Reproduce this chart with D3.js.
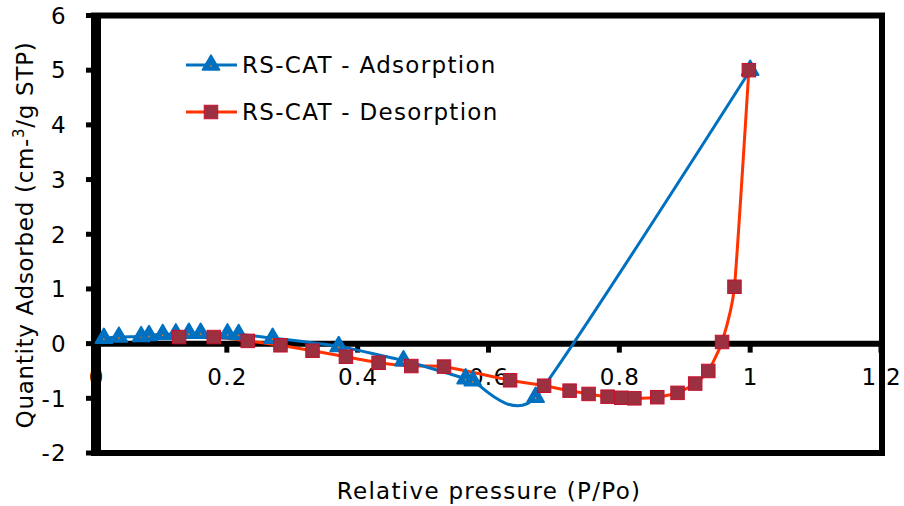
<!DOCTYPE html>
<html>
<head>
<meta charset="utf-8">
<script src="https://cdn.jsdelivr.net/npm/d3@7"></script>
<style>
  html, body { margin: 0; padding: 0; background: #fff; }
  svg { display: block; font-family: "DejaVu Sans", Verdana, sans-serif; }
</style>
</head>
<body>
<svg id="chart" width="904" height="506"></svg>
<script>
// Isotherm data: relative pressure (P/Po) vs quantity adsorbed
const adsP = [0.012, 0.035, 0.069, 0.081, 0.102, 0.122, 0.142, 0.160, 0.201, 0.218, 0.270, 0.371, 0.470, 0.565, 0.576, 0.672, 1.0];
const adsQ = [0.10, 0.12, 0.13, 0.15, 0.17, 0.18, 0.19, 0.19, 0.18, 0.17, 0.10, -0.05, -0.31, -0.64, -0.68, -0.98, 5.0];

const desP = [0.127, 0.180, 0.232, 0.282, 0.331, 0.382, 0.432, 0.482, 0.532, 0.633, 0.685, 0.724, 0.753, 0.782, 0.803, 0.823, 0.858, 0.889, 0.916, 0.936, 0.957, 0.976, 0.998];
const desQ = [0.12, 0.12, 0.05, -0.03, -0.13, -0.24, -0.35, -0.41, -0.42, -0.67, -0.77, -0.86, -0.92, -0.97, -0.99, -1.00, -0.98, -0.90, -0.73, -0.50, 0.03, 1.04, 5.0];

const xTicks = [0, 0.2, 0.4, 0.6, 0.8, 1, 1.2];
const yTicks = [-2, -1, 0, 1, 2, 3, 4, 5, 6];

const seriesNames = ["RS-CAT - Adsorption", "RS-CAT - Desorption"];

const blue = "#0070C0";
const red = "#FF3300";
const sqFill = "#9A3040";
const sqStroke = "#C8102E";

const svg = d3.select("#chart");
const plotLeft = 96, plotRight = 881, plotTop = 15.5, plotBottom = 453;

const x = d3.scaleLinear().domain([0, 1.2]).range([plotLeft, plotRight]);
const y = d3.scaleLinear().domain([-2, 6]).range([plotBottom, plotTop]);

const fontSize = 23;
const spacing = 1.3;

// Y axis tick marks and labels
const yAxis = svg.append("g");
yAxis.selectAll("line").data(yTicks).join("line")
  .attr("x1", plotLeft - 10).attr("x2", plotLeft)
  .attr("y1", d => y(d)).attr("y2", d => y(d))
  .attr("stroke", "#000").attr("stroke-width", 5);
yAxis.selectAll("text").data(yTicks).join("text")
  .attr("x", 67).attr("y", d => y(d))
  .attr("dy", "0.36em").attr("text-anchor", "end")
  .attr("font-size", fontSize).attr("letter-spacing", spacing).attr("fill", "#000")
  .text(d => String(d));

// X tick marks hang below the zero line; labels sit under it
const xAxis = svg.append("g");
xAxis.selectAll("line").data(xTicks).join("line")
  .attr("x1", d => x(d)).attr("x2", d => x(d))
  .attr("y1", y(0)).attr("y2", y(0) + 9)
  .attr("stroke", "#000").attr("stroke-width", 5);
xAxis.selectAll("text").data(xTicks).join("text")
  .attr("x", d => x(d) + spacing / 2).attr("y", 385)
  .attr("text-anchor", "middle")
  .attr("font-size", fontSize).attr("letter-spacing", spacing).attr("fill", "#000")
  .text(d => String(d));

// Plot frame, y axis and zero line
svg.append("rect")
  .attr("x", plotLeft - 2).attr("y", plotTop)
  .attr("width", plotRight - plotLeft + 3).attr("height", plotBottom - plotTop)
  .attr("fill", "none").attr("stroke", "#000").attr("stroke-width", 6);
svg.append("line")
  .attr("x1", x(0) + 2).attr("x2", x(0) + 2)
  .attr("y1", plotTop).attr("y2", plotBottom)
  .attr("stroke", "#000").attr("stroke-width", 6);
svg.append("line")
  .attr("x1", plotLeft).attr("x2", plotRight)
  .attr("y1", y(0)).attr("y2", y(0))
  .attr("stroke", "#000").attr("stroke-width", 6);

// Axis titles
svg.append("text")
  .attr("x", 489).attr("y", 499)
  .attr("text-anchor", "middle").attr("font-size", fontSize).attr("letter-spacing", spacing)
  .text("Relative pressure (P/Po)");

const yTitle = svg.append("text")
  .attr("transform", "translate(33, 235) rotate(-90)")
  .attr("text-anchor", "middle").attr("font-size", 23).attr("letter-spacing", 0.7);
yTitle.append("tspan").text("Quantity Adsorbed (cm-");
yTitle.append("tspan").attr("font-size", 15).attr("dy", -9).text("3");
yTitle.append("tspan").attr("dy", 9).text("/g STP)");

// Series (smoothed lines through every measured point)
const adsData = adsP.map((p, i) => ({ p, q: adsQ[i] }));
const desData = desP.map((p, i) => ({ p, q: desQ[i] }));

const line = d3.line().x(d => x(d.p)).y(d => y(d.q)).curve(d3.curveCardinal.tension(0.5));

svg.append("path").datum(desData).attr("d", line)
  .attr("fill", "none").attr("stroke", red).attr("stroke-width", 3);
svg.append("path").datum(adsData).attr("d", line)
  .attr("fill", "none").attr("stroke", blue).attr("stroke-width", 3);

const tri = d3.symbol().type(d3.symbolTriangle).size(120);
const sqSize = 13.5;

function drawTriangle(g, cx, cy) {
  g.append("path").attr("transform", `translate(${cx},${cy})`)
    .attr("d", tri).attr("fill", blue).attr("stroke", blue)
    .attr("stroke-width", 2).attr("stroke-linejoin", "round");
  g.append("circle").attr("cx", cx).attr("cy", cy + 1).attr("r", 0.9).attr("fill", "#E07820");
}

const triG = svg.append("g");
adsData.forEach(d => drawTriangle(triG, x(d.p), y(d.q)));

svg.append("g").selectAll("rect").data(desData).join("rect")
  .attr("x", d => x(d.p) - sqSize / 2).attr("y", d => y(d.q) - sqSize / 2)
  .attr("width", sqSize).attr("height", sqSize)
  .attr("fill", sqFill).attr("stroke", sqStroke).attr("stroke-width", 1);

// Legend
const legend = svg.append("g");
const legY = [65, 112];
legY.forEach((ly, i) => {
  legend.append("line").attr("x1", 186).attr("x2", 237)
    .attr("y1", ly).attr("y2", ly)
    .attr("stroke", i === 0 ? blue : red).attr("stroke-width", 3);
  if (i === 0) {
    drawTriangle(legend, 211, ly);
  } else {
    legend.append("rect").attr("x", 211 - sqSize / 2).attr("y", ly - sqSize / 2)
      .attr("width", sqSize).attr("height", sqSize)
      .attr("fill", sqFill).attr("stroke", sqStroke);
  }
  legend.append("text").attr("x", 242).attr("y", ly).attr("dy", "0.36em")
    .attr("font-size", fontSize).attr("letter-spacing", spacing).text(seriesNames[i]);
});
</script>
</body>
</html>
